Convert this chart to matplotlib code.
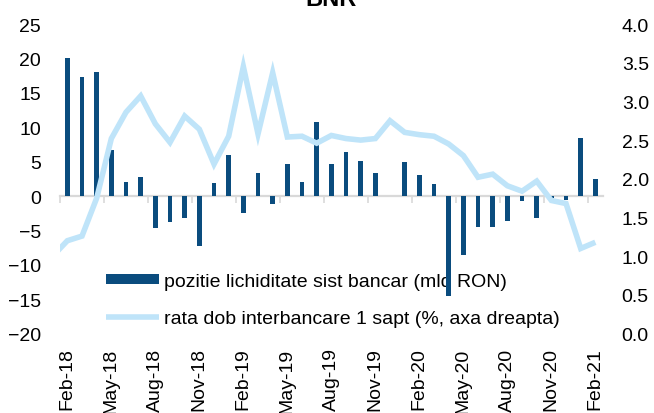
import matplotlib
matplotlib.use("Agg")
import matplotlib.pyplot as plt
import numpy as np

plt.rcParams['font.family'] = ['Liberation Sans', 'DejaVu Sans']

months = ["Feb-18", "Mar-18", "Apr-18", "May-18", "Jun-18", "Jul-18", "Aug-18", "Sep-18",
          "Oct-18", "Nov-18", "Dec-18", "Jan-19", "Feb-19", "Mar-19", "Apr-19", "May-19",
          "Jun-19", "Jul-19", "Aug-19", "Sep-19", "Oct-19", "Nov-19", "Dec-19", "Jan-20",
          "Feb-20", "Mar-20", "Apr-20", "May-20", "Jun-20", "Jul-20", "Aug-20", "Sep-20",
          "Oct-20", "Nov-20", "Dec-20", "Jan-21", "Feb-21"]

liquidity = [20.0, 17.3, 18.0, 6.7, 2.1, 2.8, -4.7, -3.8, -3.2, -7.3, 1.9, 5.9, -2.5, 3.3,
             -1.2, 4.65, 2.1, 10.7, 4.65, 6.45, 5.1, 3.4, 0.0, 4.9, 3.1, 1.75, -14.5, -8.6,
             -4.55, -4.55, -3.6, -0.7, -3.25, -0.25, -0.55, 8.4, 2.5]

# interbank rate, Jan-18 .. Feb-21 (Jan-18 falls outside the plotted range)
rate = [1.0, 1.20, 1.26, 1.75, 2.52, 2.86, 3.07, 2.71, 2.47, 2.81, 2.64, 2.19, 2.55, 3.45,
        2.58, 3.37, 2.54, 2.55, 2.46, 2.56, 2.52, 2.50, 2.52, 2.75, 2.60, 2.57, 2.55, 2.45,
        2.30, 2.02, 2.06, 1.91, 1.84, 1.97, 1.72, 1.68, 1.10, 1.18]

bar_label = "pozitie lichiditate sist bancar (mld RON)"
line_label = "rata dob interbancare 1 sapt (%, axa dreapta)"
title = "BNR"

bar_color = "#0A4C7E"
line_color = "#BFE4F9"
grid_gray = "#D9D9D9"

fig = plt.figure(figsize=(6.54, 4.14), dpi=100)
W, H = 654, 414
left, right, top, bottom = 60, 602.7, 25, 334.6
ax = fig.add_axes([left / W, 1 - bottom / H, (right - left) / W, (bottom - top) / H])

x_bar = np.arange(len(months))
x_rate = np.arange(-1, len(months))

bars = ax.bar(x_bar, liquidity, width=0.3, color=bar_color, zorder=2, label=bar_label)
ax.set_xlim(-0.5, len(months) - 0.5)
ax.set_ylim(-20, 25)
ax.set_yticks(np.arange(-20, 26, 5))
ax.tick_params(axis='y', length=0, pad=13.7, labelsize=14)
for s in ['left', 'right', 'top']:
    ax.spines[s].set_visible(False)
ax.spines['bottom'].set_position(('data', 0))
ax.spines['bottom'].set_color(grid_gray)
ax.spines['bottom'].set_linewidth(1.6)
ax.spines['bottom'].set_zorder(1)
ax.set_xticks(np.arange(-0.5, len(months), 3))
ax.tick_params(axis='x', direction='out', length=5, width=1.2, color=grid_gray,
               labelbottom=False)

# category labels at the bottom of the plot
sec = ax.secondary_xaxis('bottom')
sec.set_xticks(x_bar[::3])
sec.set_xticklabels(months[::3], rotation=90, fontsize=14)
sec.tick_params(length=0, pad=10)
sec.spines['bottom'].set_visible(False)

ax2 = ax.twinx()
line, = ax2.plot(x_rate, rate, color=line_color, lw=4, solid_joinstyle='miter',
                 solid_capstyle='butt', label=line_label)
ax2.set_ylim(0, 4.0)
ax2.set_yticks(np.arange(0, 4.01, 0.5))
ax2.set_yticklabels([f"{v:.1f}" for v in np.arange(0, 4.01, 0.5)])
ax2.tick_params(axis='y', length=0, pad=13.7, labelsize=14)
for s in ax2.spines.values():
    s.set_visible(False)
ax2.set_xlim(-0.5, len(months) - 0.5)

leg = ax.legend([bars, line], [bar_label, line_label], loc='upper left',
                bbox_to_anchor=(106 / W, 1 - 274 / H), bbox_transform=fig.transFigure,
                frameon=False, fontsize=14, handlelength=2.7, handleheight=0.46,
                handletextpad=0.29, labelspacing=1.05, borderpad=0, borderaxespad=0)
leg.set_zorder(0)

fig.text(331 / W, 1 - 6 / H, title, ha='center', va='baseline', fontsize=17,
         fontweight='bold')

fig.savefig("out.png", dpi=100)
